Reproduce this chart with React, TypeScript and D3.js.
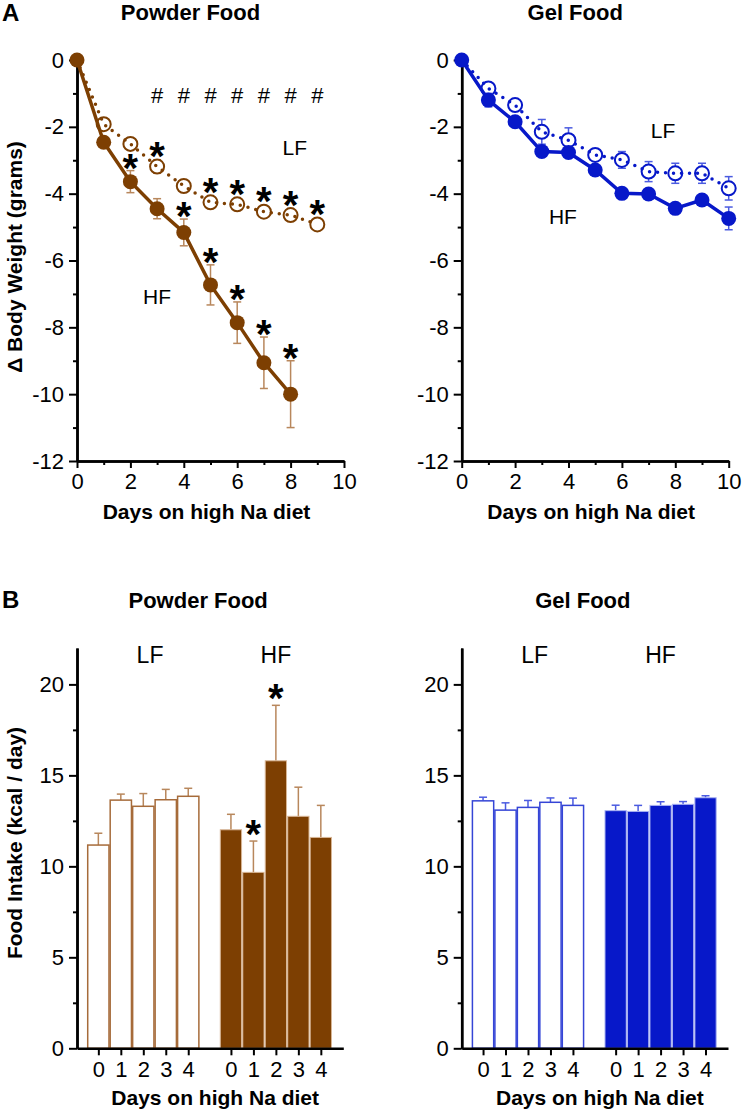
import React, { useEffect, useRef } from "react";
import * as d3 from "d3";

// ---- Panel A: change in body weight (grams) by day ----
const powderHF = [0, -2.46, -3.64, -4.45, -5.16, -6.73, -7.86, -9.06, -10.0];
const powderHFErr = [0, 0.15, 0.33, 0.3, 0.4, 0.6, 0.62, 0.77, 1.0];
const powderLF = [0, -1.92, -2.51, -3.19, -3.77, -4.26, -4.32, -4.54, -4.64, -4.92];
const powderLFErr = [0, 0.12, 0.12, 0.2, 0.12, 0.15, 0.12, 0.12, 0.12, 0.12];
const powderHFStars = [2, 4, 5, 6, 7, 8];
const powderLFStars = [3, 5, 6, 7, 8, 9];
const powderHashes = [3, 4, 5, 6, 7, 8, 9];

const gelHF = [0, -1.2, -1.85, -2.74, -2.77, -3.29, -3.99, -4.01, -4.44, -4.19, -4.74];
const gelHFErr = [0, 0.2, 0.12, 0.12, 0.12, 0.15, 0.1, 0.1, 0.1, 0.1, 0.34];
const gelLF = [0, -0.85, -1.35, -2.15, -2.4, -2.84, -2.99, -3.34, -3.39, -3.39, -3.84];
const gelLFErr = [0, 0.15, 0.15, 0.37, 0.37, 0.15, 0.25, 0.3, 0.3, 0.3, 0.35];

// ---- Panel B: food intake (kcal / day) ----
const intakeDays = [0, 1, 2, 3, 4];
const powderLFIntake = [11.17, 13.64, 13.3, 13.66, 13.85];
const powderLFIntakeErr = [0.65, 0.33, 0.7, 0.57, 0.44];
const powderHFIntake = [12.01, 9.67, 15.8, 12.75, 11.59];
const powderHFIntakeErr = [0.85, 1.72, 3.05, 1.6, 1.76];
const powderHFIntakeStars = [1, 2];
const gelLFIntake = [13.6, 13.09, 13.24, 13.52, 13.35];
const gelLFIntakeErr = [0.2, 0.4, 0.38, 0.24, 0.4];
const gelHFIntake = [13.06, 13.02, 13.35, 13.41, 13.77];
const gelHFIntakeErr = [0.3, 0.33, 0.2, 0.15, 0.11];

const FONT = "'Liberation Sans', Arial, Helvetica, sans-serif";
const BROWN = "#7d3f02";
const BROWN_ERR = "#b8875c";
const BROWN_EDGE = "#a66b3a";
const BLUE = "#0718c9";
const BLUE_ERR = "#4b5be0";
const BLUE_EDGE = "#3545d6";
const TICK_FONT = 22;
const STAR_FONT = 40;

const styleAxis = (g) => {
  g.select(".domain").attr("stroke", "#000").attr("stroke-width", 2.5);
  g.selectAll(".tick line").attr("stroke", "#000").attr("stroke-width", 2);
  g.selectAll(".tick text").attr("font-family", FONT).attr("font-size", TICK_FONT).attr("fill", "#000");
};

const text = (g, x, y, str, size, bold = false, anchor = "middle") =>
  g.append("text")
    .attr("x", x).attr("y", y)
    .attr("text-anchor", anchor)
    .attr("font-family", FONT)
    .attr("font-size", size)
    .attr("font-weight", bold ? "bold" : "normal")
    .attr("fill", "#000")
    .text(str);

const linePanel = (svg, o) => {
  const x = d3.scaleLinear().domain([0, 10]).range([o.x0, o.x0 + 267]);
  const y = d3.scaleLinear().domain([0, -12]).range([60, 461]);
  const g = svg.append("g");

  const ya = g.append("g").attr("transform", `translate(${x(0)},0)`);
  ya.append("g").call(d3.axisLeft(y).tickValues(d3.range(-11, 0, 2)).tickSize(4).tickSizeOuter(0).tickFormat(() => "")).call(styleAxis);
  ya.append("g").call(d3.axisLeft(y).tickValues(d3.range(0, -13, -2)).tickSize(8).tickPadding(5).tickSizeOuter(0).tickFormat((d) => String(d))).call(styleAxis);
  const xa = g.append("g").attr("transform", `translate(0,${y(-12)})`);
  xa.append("g").call(d3.axisBottom(x).tickValues(d3.range(1, 10, 2)).tickSize(4).tickSizeOuter(0).tickFormat(() => "")).call(styleAxis);
  xa.append("g").call(d3.axisBottom(x).tickValues(d3.range(0, 11, 2)).tickSize(7).tickPadding(5).tickSizeOuter(0).tickFormat((d) => String(d))).call(styleAxis);

  text(g, (x(0) + x(10)) / 2 - 4, 519, "Days on high Na diet", 21, true);
  text(g, (x(0) + x(10)) / 2 - 20, 20, o.title, 22, true);

  const line = d3.line().x((d, i) => x(i)).y((d) => y(d));
  const r = 7.5;

  const errBars = (vals, errs, color) => {
    vals.forEach((v, i) => {
      if (!errs[i]) return;
      const e = g.append("g").attr("stroke", color).attr("stroke-width", 1.5).attr("fill", "none");
      e.append("line").attr("x1", x(i)).attr("x2", x(i)).attr("y1", y(v + errs[i])).attr("y2", y(v - errs[i]));
      [v + errs[i], v - errs[i]].forEach((t) =>
        e.append("line").attr("x1", x(i) - 4).attr("x2", x(i) + 4).attr("y1", y(t)).attr("y2", y(t)));
    });
  };

  // LF: open circles, dotted line
  errBars(o.lf, o.lfErr, o.errColor);
  g.selectAll(null).data(o.lf.slice(1)).enter().append("circle")
    .attr("cx", (d, i) => x(i + 1)).attr("cy", (d) => y(d)).attr("r", r - 0.5)
    .attr("fill", "#fff").attr("stroke", o.color).attr("stroke-width", 2);
  g.append("path").datum(o.lf).attr("d", line).attr("fill", "none")
    .attr("stroke", o.color).attr("stroke-width", 3.5)
    .attr("stroke-linecap", "round").attr("stroke-dasharray", "0 8");

  // HF: filled circles, solid line
  errBars(o.hf, o.hfErr, o.errColor);
  g.append("path").datum(o.hf).attr("d", line).attr("fill", "none")
    .attr("stroke", o.color).attr("stroke-width", 3.5);
  g.selectAll(null).data(o.hf).enter().append("circle")
    .attr("cx", (d, i) => x(i)).attr("cy", (d) => y(d)).attr("r", r)
    .attr("fill", o.color);

  const starAt = (vals, errs, d) => {
    const top = Math.min(y(vals[d] + errs[d]), y(vals[d]) - r);
    text(g, x(d), top - 12 + 23, "*", STAR_FONT, true);
  };
  (o.hfStars || []).forEach((d) => starAt(o.hf, o.hfErr, d));
  (o.lfStars || []).forEach((d) => starAt(o.lf, o.lfErr, d));
  (o.hashes || []).forEach((d) => text(g, x(d), y(-1.05) + 8, "#", 22));

  text(g, x(o.lfLabel[0]), y(o.lfLabel[1]) + 7.5, "LF", 21);
  text(g, x(o.hfLabel[0]), y(o.hfLabel[1]) + 7.5, "HF", 21);
};

const barPanel = (svg, o) => {
  const x = d3.scaleLinear().domain([-0.95, 10.9]).range([o.x0, o.x0 + 266.3]);
  const y = d3.scaleLinear().domain([0, 22]).range([1048.3, 648]);
  const hfShift = 5.9;
  const g = svg.append("g");
  const w = x(1) - x(0) - 1.2;

  const drawBars = (vals, errs, shift, fill, stroke, errColor) => {
    vals.forEach((v, i) => {
      const cx = x(intakeDays[i] + shift);
      const e = g.append("g").attr("stroke", errColor).attr("stroke-width", 1.5);
      e.append("line").attr("x1", cx).attr("x2", cx).attr("y1", y(v)).attr("y2", y(v + errs[i]));
      e.append("line").attr("x1", cx - 4).attr("x2", cx + 4).attr("y1", y(v + errs[i])).attr("y2", y(v + errs[i]));
      g.append("rect")
        .attr("x", cx - w / 2).attr("y", y(v))
        .attr("width", w).attr("height", y(0) - y(v))
        .attr("fill", fill).attr("stroke", stroke).attr("stroke-width", fill === "#fff" ? 1.5 : 1);
    });
  };
  drawBars(o.lf, o.lfErr, 0, "#fff", o.edge, o.errColor);
  drawBars(o.hf, o.hfErr, hfShift, o.color, o.light, o.errColor);

  const ya = g.append("g").attr("transform", `translate(${x(-0.95)},0)`);
  ya.append("g").call(d3.axisLeft(y).tickValues([2.5, 7.5, 12.5, 17.5]).tickSize(4).tickSizeOuter(0).tickFormat(() => "")).call(styleAxis);
  ya.append("g").call(d3.axisLeft(y).tickValues([0, 5, 10, 15, 20]).tickSize(8).tickPadding(5).tickSizeOuter(0).tickFormat((d) => String(d))).call(styleAxis);
  const positions = intakeDays.concat(intakeDays.map((d) => d + hfShift));
  g.append("g").attr("transform", `translate(0,${y(0)})`)
    .call(d3.axisBottom(x).tickValues(positions).tickSize(7).tickPadding(6).tickSizeOuter(0)
      .tickFormat((d) => String(Math.round(d >= hfShift ? d - hfShift : d))))
    .call(styleAxis);

  (o.stars || []).forEach((d) => text(g, x(d + hfShift), y(o.hf[d] + o.hfErr[d]) - 16 + 23, "*", STAR_FONT, true));

  text(g, x(2.3), 663, "LF", 23);
  text(g, x(7.9), 663, "HF", 23);
  text(g, (x(-0.95) + x(10.9)) / 2 + 5, 1105, "Days on high Na diet", 21, true);
  text(g, (x(-0.95) + x(10.9)) / 2 - 12, 608, o.title, 22, true);
};

const App = () => {
  const ref = useRef(null);

  useEffect(() => {
    const svg = d3.select(ref.current);
    svg.selectAll("*").remove();

    text(svg, 2, 21, "A", 24, true, "start");
    text(svg, 2, 608, "B", 24, true, "start");

    text(svg.append("g").attr("transform", "translate(22,257) rotate(-90)"), 0, 0, "Δ Body Weight (grams)", 21, true);
    text(svg.append("g").attr("transform", "translate(22,843) rotate(-90)"), 0, 0, "Food Intake (kcal / day)", 21, true);

    linePanel(svg, {
      x0: 77, title: "Powder Food", color: BROWN, errColor: BROWN_ERR,
      hf: powderHF, hfErr: powderHFErr, lf: powderLF, lfErr: powderLFErr,
      hfStars: powderHFStars, lfStars: powderLFStars, hashes: powderHashes,
      lfLabel: [8.16, -2.63], hfLabel: [3.0, -7.09],
    });
    linePanel(svg, {
      x0: 461.7, title: "Gel Food", color: BLUE, errColor: BLUE_ERR,
      hf: gelHF, hfErr: gelHFErr, lf: gelLF, lfErr: gelLFErr,
      lfLabel: [7.54, -2.1], hfLabel: [3.79, -4.69],
    });
    barPanel(svg, {
      x0: 77, title: "Powder Food", color: BROWN, edge: BROWN_EDGE, light: "#d8b696", errColor: BROWN_ERR,
      lf: powderLFIntake, lfErr: powderLFIntakeErr, hf: powderHFIntake, hfErr: powderHFIntakeErr,
      stars: powderHFIntakeStars,
    });
    barPanel(svg, {
      x0: 461.7, title: "Gel Food", color: BLUE, edge: BLUE_EDGE, light: "#aab3f2", errColor: BLUE_ERR,
      lf: gelLFIntake, lfErr: gelLFIntakeErr, hf: gelHFIntake, hfErr: gelHFIntakeErr,
    });
  }, []);

  return (
    <svg ref={ref} width={742} height={1111}
      style={{ position: "absolute", left: 0, top: 0, background: "#fff" }} />
  );
};

export default App;
